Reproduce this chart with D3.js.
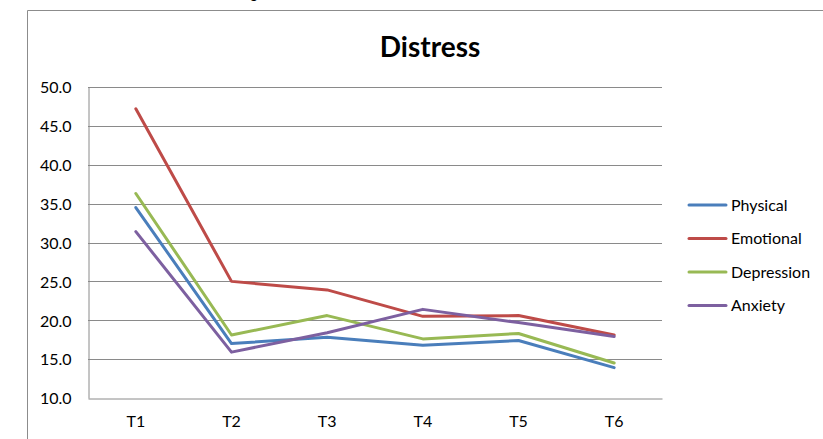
<!DOCTYPE html>
<html>
<head>
<meta charset="utf-8">
<script src="https://cdn.jsdelivr.net/npm/d3@7"></script>
<style>
  html, body { margin: 0; padding: 0; background: #fff; }
  svg { display: block; }
  text { font-family: Lato, "Open Sans", sans-serif; fill: #000; }
</style>
</head>
<body>
<svg id="chart" width="823" height="439"></svg>
<script>
// Time points and distress scores per measure
const timepoints = ["T1", "T2", "T3", "T4", "T5", "T6"];
const physical   = [34.5, 17.0, 17.8, 16.8, 17.4, 13.9];
const emotional  = [47.2, 25.0, 23.9, 20.5, 20.6, 18.1];
const depression = [36.3, 18.1, 20.6, 17.6, 18.3, 14.5];
const anxiety    = [31.4, 15.9, 18.4, 21.4, 19.7, 17.9];
const yTicks     = [10, 15, 20, 25, 30, 35, 40, 45, 50];

const seriesNames  = ["Physical", "Emotional", "Depression", "Anxiety"];
const seriesValues = [physical, emotional, depression, anxiety];
const colors       = ["#4A7EBB", "#BE4B48", "#98B954", "#7D60A0"];

const svg = d3.select("#chart");

// Outer chart frame (continues past the right and bottom edges)
svg.append("path")
  .attr("d", "M27.5,445 V10.5 H830")
  .attr("fill", "none")
  .attr("stroke", "#8c8c8c")
  .attr("stroke-width", 1);

// Caption text above the frame, mostly clipped by the top edge
svg.append("text")
  .attr("x", 250).attr("y", -2)
  .style("font-size", "15px")
  .text("g");

// Title
svg.append("text")
  .attr("x", 430).attr("y", 57)
  .attr("text-anchor", "middle")
  .style("font-size", "28px")
  .style("font-weight", "bold")
  .text("Distress");

const plot = { left: 88, right: 662, top: 87, bottom: 398 };

const x = d3.scaleBand()
  .domain(timepoints)
  .range([plot.left, plot.right]);

const y = d3.scaleLinear()
  .domain([10, 50])
  .range([plot.bottom, plot.top]);

// Horizontal gridlines
svg.append("g")
  .selectAll("line")
  .data(yTicks.filter(d => d > 10))
  .join("line")
  .attr("x1", plot.left).attr("x2", plot.right)
  .attr("y1", d => Math.round(y(d)) + 0.5)
  .attr("y2", d => Math.round(y(d)) + 0.5)
  .attr("stroke", "#8a8a8a")
  .attr("stroke-width", 1);

// Y axis
const yAxis = svg.append("g")
  .attr("transform", `translate(${plot.left + 0.5},0)`)
  .call(d3.axisLeft(y).tickValues(yTicks).tickFormat(d3.format(".1f")).tickSize(0).tickPadding(17));
yAxis.select(".domain").attr("stroke", "#8a8a8a");
yAxis.selectAll("text")
  .style("font-family", "Lato, 'Open Sans', sans-serif")
  .style("font-size", "16px")
  .attr("dy", "0.36em");

// X axis
const xAxis = svg.append("g")
  .attr("transform", `translate(0,${plot.bottom + 0.5})`)
  .call(d3.axisBottom(x).tickSize(0).tickPadding(17));
xAxis.select(".domain").attr("stroke", "#8a8a8a");
xAxis.selectAll("text")
  .style("font-family", "Lato, 'Open Sans', sans-serif")
  .style("font-size", "16px");

// Series lines
const line = d3.line()
  .x((d, i) => x(timepoints[i]) + x.bandwidth() / 2)
  .y(d => y(d));

svg.append("g")
  .selectAll("path")
  .data(seriesValues)
  .join("path")
  .attr("d", d => line(d))
  .attr("fill", "none")
  .attr("stroke", (d, i) => colors[i])
  .attr("stroke-width", 3)
  .attr("stroke-linejoin", "round")
  .attr("stroke-linecap", "round");

// Legend
const legend = svg.append("g")
  .selectAll("g")
  .data(seriesNames)
  .join("g")
  .attr("transform", (d, i) => `translate(689,${205 + i * 33.5})`);

legend.append("line")
  .attr("x1", 0).attr("x2", 37)
  .attr("stroke", (d, i) => colors[i])
  .attr("stroke-width", 3)
  .attr("stroke-linecap", "round");

legend.append("text")
  .attr("x", 42)
  .attr("dy", "0.36em")
  .style("font-size", "16px")
  .text(d => d);
</script>
</body>
</html>
